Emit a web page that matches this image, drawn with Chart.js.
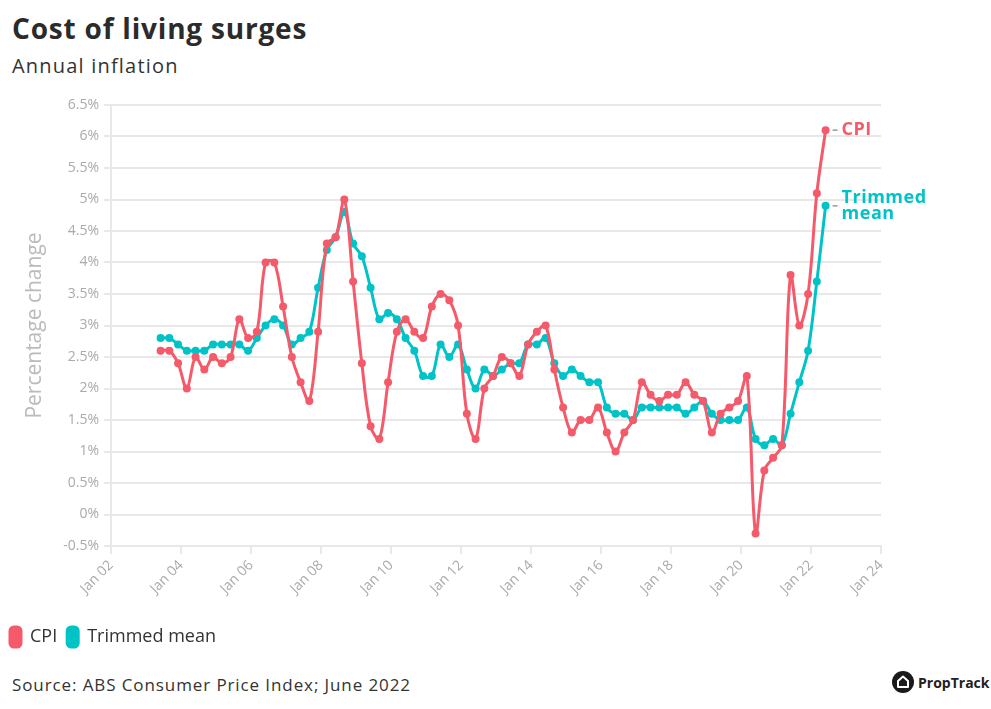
<!DOCTYPE html>
<html>
<head>
<meta charset="utf-8">
<script src="https://cdn.jsdelivr.net/npm/chart.js@4/dist/chart.umd.min.js"></script>
<style>
  body { margin: 0; background: #fff; font-family: "Open Sans", sans-serif; color: #333; }
  #page { position: relative; width: 991px; height: 709px; overflow: hidden; }
  #title { position: absolute; left: 12px; top: 9px; font-size: 28px; font-weight: 700; color: #2b2b2b; letter-spacing: 0.8px; }
  #sub { position: absolute; left: 12px; top: 52px; font-size: 20px; color: #333; letter-spacing: 1.2px; }
  #wrap { position: absolute; left: 0; top: 81px; width: 991px; height: 576px; }
  #source { position: absolute; left: 12px; top: 673px; font-size: 17px; color: #333; letter-spacing: 0.9px; }
  #logo { position: absolute; left: 892px; top: 671px; display: flex; align-items: center; font-weight: 700; font-size: 14px; color: #222; }
  #logo svg { margin-right: 4px; }
</style>
</head>
<body>
<div id="page">
  <div id="title">Cost of living surges</div>
  <div id="sub">Annual inflation</div>
  <div id="wrap"><canvas id="cChart"></canvas></div>
  <div id="source">Source: ABS Consumer Price Index; June 2022</div>
  <div id="logo">
    <svg width="22" height="22" viewBox="0 0 22 22"><circle cx="11" cy="11" r="11" fill="#1a1a1a"/><path d="M6 16V10L11 5.5L16 10V16Z" fill="none" stroke="#fff" stroke-width="2" stroke-linejoin="round"/></svg>
    <span>PropTrack</span>
  </div>
</div>
<script>
// quarters, Jun 2003 .. Jun 2022
const quarters = [
  "2003-06","2003-09","2003-12","2004-03","2004-06","2004-09","2004-12","2005-03","2005-06","2005-09","2005-12",
  "2006-03","2006-06","2006-09","2006-12","2007-03","2007-06","2007-09","2007-12","2008-03","2008-06","2008-09","2008-12",
  "2009-03","2009-06","2009-09","2009-12","2010-03","2010-06","2010-09","2010-12","2011-03","2011-06","2011-09","2011-12",
  "2012-03","2012-06","2012-09","2012-12","2013-03","2013-06","2013-09","2013-12","2014-03","2014-06","2014-09","2014-12",
  "2015-03","2015-06","2015-09","2015-12","2016-03","2016-06","2016-09","2016-12","2017-03","2017-06","2017-09","2017-12",
  "2018-03","2018-06","2018-09","2018-12","2019-03","2019-06","2019-09","2019-12","2020-03","2020-06","2020-09","2020-12",
  "2021-03","2021-06","2021-09","2021-12","2022-03","2022-06"
];

const cpi = [
  2.6, 2.6, 2.4, 2.0, 2.5, 2.3, 2.5, 2.4, 2.5, 3.1, 2.8,
  2.9, 4.0, 4.0, 3.3, 2.5, 2.1, 1.8, 2.9, 4.3, 4.4, 5.0, 3.7,
  2.4, 1.4, 1.2, 2.1, 2.9, 3.1, 2.9, 2.8, 3.3, 3.5, 3.4, 3.0,
  1.6, 1.2, 2.0, 2.2, 2.5, 2.4, 2.2, 2.7, 2.9, 3.0, 2.3, 1.7,
  1.3, 1.5, 1.5, 1.7, 1.3, 1.0, 1.3, 1.5, 2.1, 1.9, 1.8, 1.9,
  1.9, 2.1, 1.9, 1.8, 1.3, 1.6, 1.7, 1.8, 2.2, -0.3, 0.7, 0.9,
  1.1, 3.8, 3.0, 3.5, 5.1, 6.1
];

const trimmedMean = [
  2.8, 2.8, 2.7, 2.6, 2.6, 2.6, 2.7, 2.7, 2.7, 2.7, 2.6,
  2.8, 3.0, 3.1, 3.0, 2.7, 2.8, 2.9, 3.6, 4.2, 4.4, 4.8, 4.3,
  4.1, 3.6, 3.1, 3.2, 3.1, 2.8, 2.6, 2.2, 2.2, 2.7, 2.5, 2.7,
  2.3, 2.0, 2.3, 2.2, 2.3, 2.4, 2.4, 2.7, 2.7, 2.8, 2.4, 2.2,
  2.3, 2.2, 2.1, 2.1, 1.7, 1.6, 1.6, 1.5, 1.7, 1.7, 1.7, 1.7,
  1.7, 1.6, 1.7, 1.8, 1.6, 1.5, 1.5, 1.5, 1.7, 1.2, 1.1, 1.2,
  1.1, 1.6, 2.1, 2.6, 3.7, 4.9
];

const xTicks = [2002, 2004, 2006, 2008, 2010, 2012, 2014, 2016, 2018, 2020, 2022, 2024];
const yTicks = [-0.5, 0, 0.5, 1, 1.5, 2, 2.5, 3, 3.5, 4, 4.5, 5, 5.5, 6, 6.5];

const RED = "#f45a69";
const TEAL = "#00c3c8";
const GRID = "#e8e8e8";
const FONT = "'Open Sans', sans-serif";

// quarter string -> decimal year (month start)
function toYear ( q ) {
  const [ y, m ] = q.split( "-" ).map( Number );
  return y + ( m - 1 ) / 12;
}

const series = [
  { label: "CPI", values: cpi, color: RED, end: [ "CPI" ] },
  { label: "Trimmed mean", values: trimmedMean, color: TEAL, end: [ "Trimmed", "mean" ] }
];

// end-of-line labels next to the last point
const endLabels = {
  id: "endLabels",
  afterDatasetsDraw ( chart ) {
    const ctx = chart.ctx;
    chart.data.datasets.forEach( ( ds, i ) => {
      const meta = chart.getDatasetMeta( i );
      const pt = meta.data[ meta.data.length - 1 ];
      const lines = series[ i ].end;
      ctx.save();
      ctx.strokeStyle = "#999";
      ctx.lineWidth = 1.5;
      ctx.beginPath();
      ctx.moveTo( pt.x + 7, pt.y );
      ctx.lineTo( pt.x + 12, pt.y );
      ctx.stroke();
      ctx.fillStyle = ds.borderColor;
      ctx.font = "700 18px " + FONT;
      if ( "letterSpacing" in ctx ) ctx.letterSpacing = "0.5px";
      ctx.textBaseline = "middle";
      lines.forEach( ( t, k ) => ctx.fillText( t, pt.x + 16, pt.y - 8 * ( lines.length - 1 ) + k * 16 ) );
      ctx.restore();
    } );
  }
};

const ctx = document.getElementById( "cChart" ).getContext( "2d" );
new Chart( ctx, {
  type: "line",
  data: {
    datasets: series.map( s => ( {
      label: s.label,
      data: s.values.map( ( v, i ) => ( { x: toYear( quarters[ i ] ), y: v } ) ),
      borderColor: s.color,
      backgroundColor: s.color,
      pointBackgroundColor: s.color,
      pointBorderWidth: 0,
      pointRadius: 4,
      borderWidth: 3,
      tension: 0.35
    } ) )
  },
  options: {
    responsive: true,
    maintainAspectRatio: false,
    animation: false,
    layout: { padding: { left: 0, right: 110, top: 24, bottom: 0 } },
    plugins: {
      legend: {
        position: "bottom",
        align: "start",
        labels: {
          boxWidth: 11,
          boxHeight: 20,
          useBorderRadius: true,
          borderRadius: 4,
          padding: 10,
          color: "#333",
          font: { family: FONT, size: 18 }
        }
      },
      tooltip: { enabled: false }
    },
    scales: {
      x: {
        type: "linear",
        min: 2002,
        max: 2024,
        afterBuildTicks: axis => { axis.ticks = xTicks.map( v => ( { value: v } ) ); },
        afterFit: axis => { axis.height = 71; },
        grid: { display: true, drawOnChartArea: false, color: GRID, lineWidth: 2, tickLength: 8 },
        border: { color: GRID, width: 2 },
        ticks: {
          minRotation: 45,
          maxRotation: 45,
          color: "#aaa",
          font: { family: FONT, size: 14 },
          callback: v => "Jan " + String( v ).slice( 2 )
        }
      },
      y: {
        min: -0.5,
        max: 6.5,
        afterBuildTicks: axis => { axis.ticks = yTicks.map( v => ( { value: v } ) ); },
        afterFit: axis => { axis.width = 111; },
        grid: { color: GRID, lineWidth: 2, tickLength: 7 },
        border: { color: GRID, width: 2 },
        ticks: {
          padding: 5,
          color: "#aaa",
          font: { family: FONT, size: 14 },
          callback: v => v + "%"
        },
        title: {
          display: true,
          text: "Percentage change",
          color: "#bbb",
          font: { family: FONT, size: 21 },
          padding: { top: 22, bottom: 0 }
        }
      }
    }
  },
  plugins: [ endLabels ]
} );
</script>
</body>
</html>
